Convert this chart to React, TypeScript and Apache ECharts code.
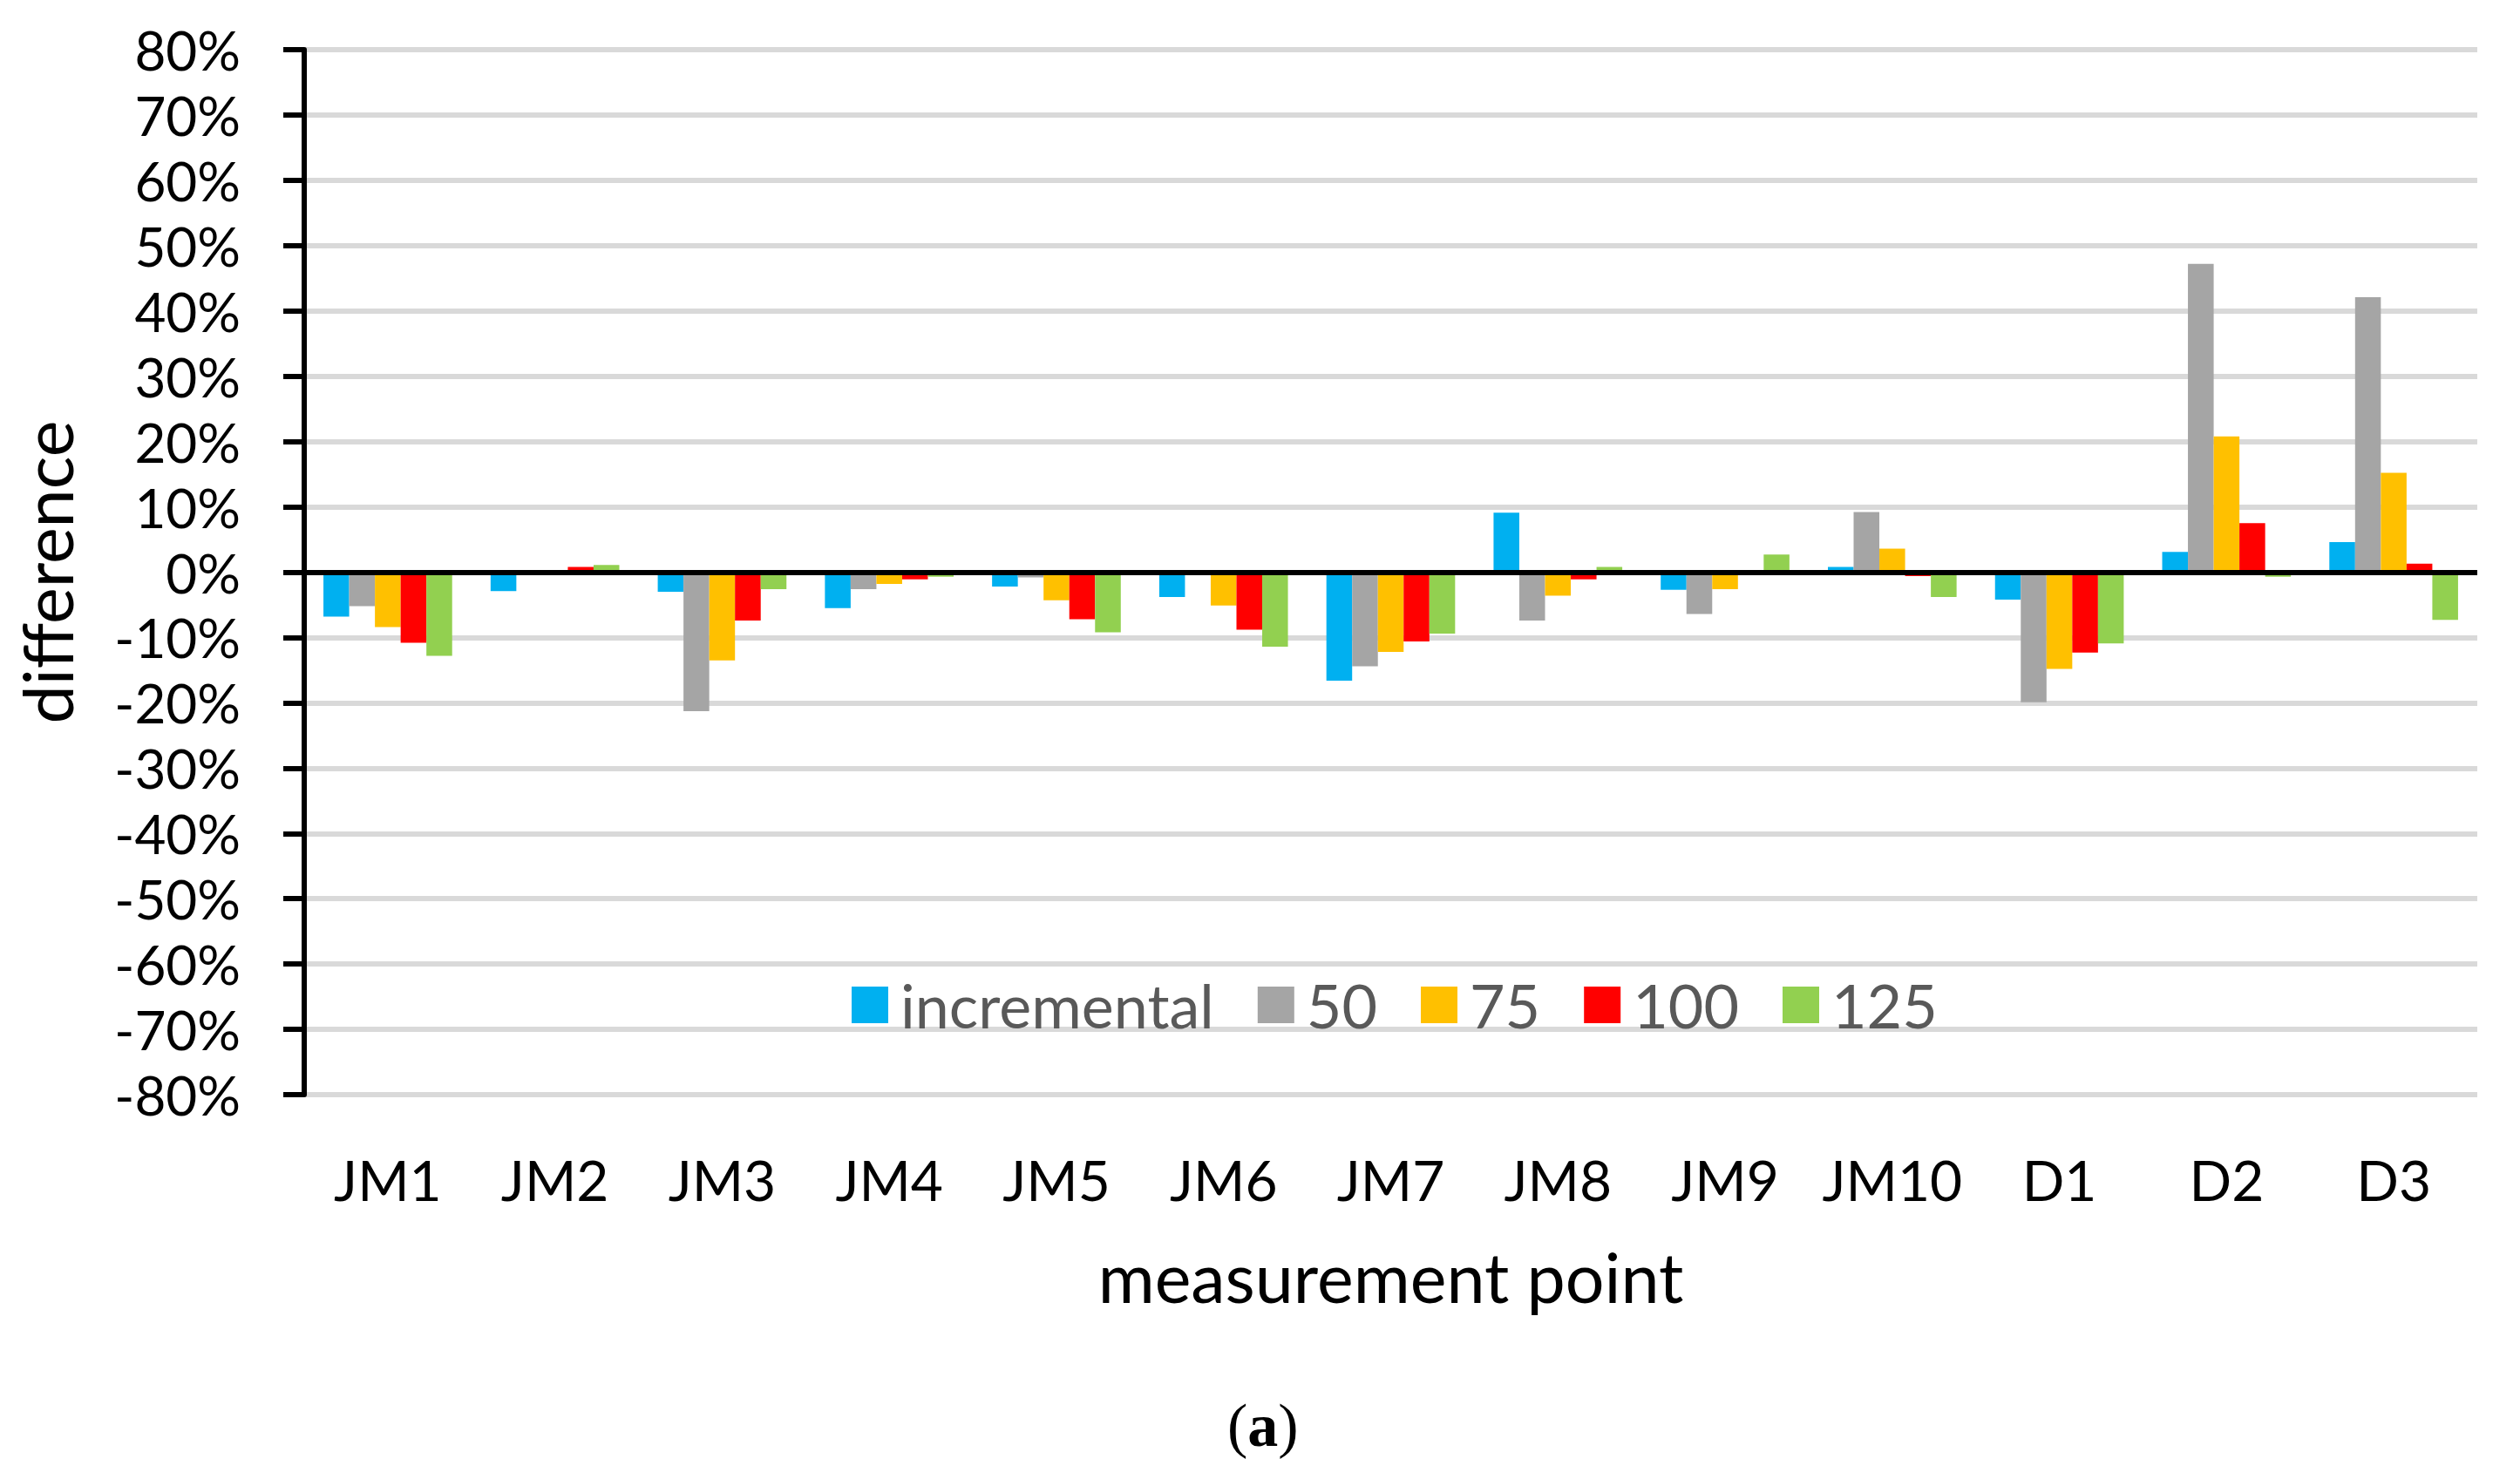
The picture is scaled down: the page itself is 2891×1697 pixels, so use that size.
import React, { useEffect, useRef } from "react";
import * as echarts from "echarts";

const categories = ["JM1", "JM2", "JM3", "JM4", "JM5", "JM6", "JM7", "JM8", "JM9", "JM10", "D1", "D2", "D3"];
const seriesNames = ["incremental", "50", "75", "100", "125"];
const incremental = [-6.8, -2.9, -3.0, -5.5, -2.2, -3.8, -16.6, 9.1, -2.7, 0.8, -4.2, 3.1, 4.6];
const s50 = [-5.2, 0, -21.3, -2.6, -0.8, 0, -14.4, -7.4, -6.4, 9.2, -19.9, 47.2, 42.1];
const s75 = [-8.4, 0, -13.5, -1.8, -4.3, -5.1, -12.2, -3.6, -2.6, 3.6, -14.8, 20.8, 15.2];
const s100 = [-10.8, 0.8, -7.4, -1.1, -7.2, -8.8, -10.6, -1.1, 0, -0.6, -12.3, 7.5, 1.3];
const s125 = [-12.8, 1.1, -2.6, -0.7, -9.2, -11.4, -9.4, 0.8, 2.7, -3.8, -10.9, -0.7, -7.3];
const seriesData = [incremental, s50, s75, s100, s125];
const colors = ["#00B0F0", "#A5A5A5", "#FFC000", "#FF0000", "#92D050"];

const FONT = "Lato";

export default function App() {
  const ref = useRef<HTMLDivElement>(null);
  useEffect(() => {
    if (!ref.current) return;
    const chart = echarts.init(ref.current, null, { renderer: "svg" });
    const series: any[] = seriesNames.map((name, i) => ({
      name,
      type: "bar",
      data: seriesData[i],
      itemStyle: { color: colors[i] },
      barGap: "0%",
      barCategoryGap: "23%",
      ...(i === seriesNames.length - 1
        ? {
            markLine: {
              silent: true,
              symbol: "none",
              label: { show: false },
              lineStyle: { color: "#000", width: 6, type: "solid" },
              data: [{ yAxis: 0 }],
            },
          }
        : {}),
    }));
    chart.setOption({
      animation: false,
      backgroundColor: "#fff",
      color: colors,
      grid: { left: 349, right: 49, top: 57, bottom: 441, containLabel: false },
      legend: {
        data: seriesNames,
        left: 972,
        top: 1112,
        itemWidth: 42,
        itemHeight: 42,
        itemGap: 50,
        icon: "rect",
        textStyle: { fontFamily: FONT, fontSize: 70, lineHeight: 72, color: "#595959", padding: [0, 0, 0, 9] },
      },
      xAxis: {
        type: "category",
        data: categories,
        axisLine: { show: false, onZero: false },
        axisTick: { show: false },
        axisLabel: { interval: 0, fontFamily: FONT, fontSize: 64, lineHeight: 70, color: "#000", margin: 62 },
        name: "measurement point",
        nameLocation: "middle",
        nameGap: 168,
        nameTextStyle: { fontFamily: FONT, fontSize: 79, lineHeight: 80, color: "#000" },
      },
      yAxis: {
        type: "value",
        min: -80,
        max: 80,
        interval: 10,
        axisLine: { show: true, lineStyle: { color: "#000", width: 6 } },
        axisTick: { show: true, length: 24, lineStyle: { color: "#000", width: 6 } },
        axisLabel: {
          fontFamily: FONT,
          fontSize: 62,
          lineHeight: 62,
          color: "#000",
          margin: 73,
          formatter: (v: number) => `${v}%`,
        },
        splitLine: { show: true, lineStyle: { color: "#D9D9D9", width: 6 } },
        name: "difference",
        nameLocation: "middle",
        nameRotate: 90,
        nameGap: 256,
        nameTextStyle: { fontFamily: FONT, fontSize: 79, lineHeight: 80, color: "#000" },
      },
      graphic: [
        {
          type: "text",
          left: 1408,
          top: 1600,
          style: {
            text: "({b|a})",
            font: "70px 'Liberation Serif'",
            fill: "#000",
            rich: { b: { fontWeight: "bold", fontSize: 70, fontFamily: "Liberation Serif" } },
          },
        },
      ],
      series,
    });
    return () => chart.dispose();
  }, []);
  return <div ref={ref} style={{ position: "fixed", left: 0, top: 0, width: 2891, height: 1697 }} />;
}
